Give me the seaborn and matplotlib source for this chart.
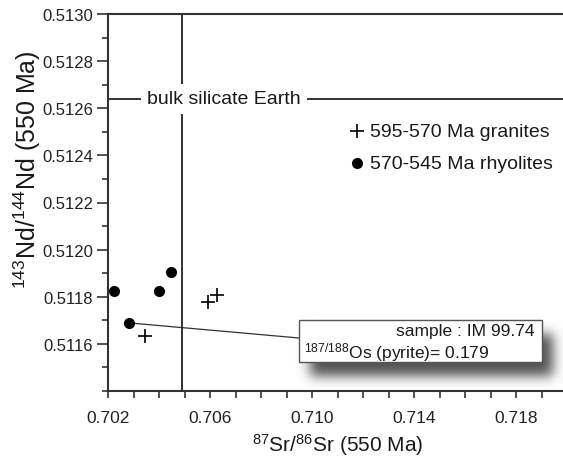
import numpy as np
import pandas as pd
import matplotlib
matplotlib.use("Agg")
import matplotlib.pyplot as plt
import seaborn as sns
from matplotlib.patches import Rectangle, ConnectionPatch
from matplotlib.ticker import FormatStrFormatter, MultipleLocator, FixedLocator

# ---- data ----
granite_sr = [0.70344, 0.70592, 0.70625]
granite_nd = [0.511633, 0.511776, 0.511808]
rhyolite_sr = [0.70224, 0.70282, 0.70398, 0.70445]
rhyolite_nd = [0.511825, 0.511689, 0.511825, 0.511905]
bse_sr = 0.7049
bse_nd = 0.51264
sample_index = 1  # rhyolite sample IM 99.74
granite_label = "595-570 Ma granites"
rhyolite_label = "570-545 Ma rhyolites"
bse_label = "bulk silicate Earth"
note_line1 = "sample : IM 99.74"
note_line2 = r"$^{187/188}$Os (pyrite)= 0.179"
x_label = r"$^{87}$Sr/$^{86}$Sr (550 Ma)"
y_label = r"$^{143}$Nd/$^{144}$Nd (550 Ma)"
x_major = [0.702, 0.706, 0.710, 0.714, 0.718]
y_major = [0.5116, 0.5118, 0.5120, 0.5122, 0.5124, 0.5126, 0.5128, 0.5130]

sns.set_style("ticks")
plt.rcParams["font.family"] = ["Liberation Sans", "DejaVu Sans"]
plt.rcParams["mathtext.fontset"] = "custom"
plt.rcParams["mathtext.rm"] = "Liberation Sans"
plt.rcParams["mathtext.it"] = "Liberation Sans:italic"
plt.rcParams["mathtext.bf"] = "Liberation Sans:bold"

W, H = 563, 460
fig = plt.figure(figsize=(W / 100, H / 100), dpi=100)
ax = fig.add_axes([108.3 / W, (H - 392) / H, (567 - 108.3) / W, 377 / H])

granites = pd.DataFrame({"sr": granite_sr, "nd": granite_nd})
rhyolites = pd.DataFrame({"sr": rhyolite_sr, "nd": rhyolite_nd})

sns.scatterplot(data=granites, x="sr", y="nd", marker="+", s=100, color="black",
                linewidth=1.2, ax=ax, label=granite_label, zorder=5)
sns.scatterplot(data=rhyolites, x="sr", y="nd", marker="o", s=64, color="black",
                edgecolor="black", linewidth=0, ax=ax, label=rhyolite_label, zorder=5)

ax.set_xlim(0.702, 0.720)
ax.set_ylim(0.5114, 0.5130)

# reference lines
ax.axvline(bse_sr, color="#222222", lw=1.3, zorder=2)
ax.axhline(bse_nd, color="#222222", lw=1.3, zorder=2)
ax.text(0.70653, bse_nd, bse_label, ha="center", va="center",
        fontsize=14, color="#1a1a1a", zorder=3,
        bbox=dict(facecolor="white", edgecolor="none", pad=4.5))

# ticks
ax.xaxis.set_major_locator(FixedLocator(x_major))
ax.xaxis.set_minor_locator(MultipleLocator(0.001))
ax.yaxis.set_major_locator(FixedLocator(y_major))
ax.yaxis.set_minor_locator(MultipleLocator(0.0001))
ax.xaxis.set_major_formatter(FormatStrFormatter("%.3f"))
ax.yaxis.set_major_formatter(FormatStrFormatter("%.4f"))
ax.tick_params(axis="x", which="both", direction="out", length=5, width=1.2,
               color="#333333", pad=9, labelsize=12.5, labelcolor="#222222")
ax.tick_params(axis="y", which="major", direction="out", length=8, width=1.2,
               color="#333333", pad=3, labelsize=12, labelcolor="#222222")
ax.tick_params(axis="y", which="minor", direction="out", length=4, width=1.2,
               color="#333333")

for side in ["left", "top", "bottom"]:
    ax.spines[side].set_color("#333333")
    ax.spines[side].set_linewidth(1.5)
ax.spines["right"].set_visible(False)

ax.set_xlabel(x_label, fontsize=15, color="#1a1a1a", labelpad=4)
ax.set_ylabel(y_label, fontsize=18, color="#1a1a1a")
ax.yaxis.set_label_coords(-0.142, 0.59)

# legend
handles, labels = ax.get_legend_handles_labels()
ax.legend(handles, labels, loc="upper left", bbox_to_anchor=(0.529, 0.7127),
          frameon=False, fontsize=14, handlelength=0.65, handletextpad=0.33,
          labelspacing=0.75, borderpad=0, borderaxespad=0, labelcolor="#1a1a1a")

# overlay for the annotation box (pixel coordinates)
ov = fig.add_axes([0, 0, 1, 1], facecolor="none", zorder=10)
ov.axis("off")

bx0, bx1, by0, by1 = 299, 542, 321, 363
# blurred drop shadow
mask = np.zeros((H, W))
dx, dy = 11, 14
mask[by0 + dy:by1 + dy, bx0 + dx:bx1 + dx] = 1.0
sig = 6.0
k = np.arange(-20, 21)
kern = np.exp(-0.5 * (k / sig) ** 2)
kern /= kern.sum()
mask = np.apply_along_axis(lambda r: np.convolve(r, kern, mode="same"), 1, mask)
mask = np.apply_along_axis(lambda c: np.convolve(c, kern, mode="same"), 0, mask)
rgba = np.zeros((H, W, 4))
rgba[..., :3] = 0.28
rgba[..., 3] = np.clip(mask * 0.95, 0, 1)
ov.imshow(rgba, extent=(0, W, H, 0), interpolation="bilinear", zorder=1, aspect="auto")
ov.set_xlim(0, W)
ov.set_ylim(H, 0)

ov.add_patch(Rectangle((bx0, by0), bx1 - bx0, by1 - by0, facecolor="white",
                       edgecolor="#555555", lw=1.0, zorder=2))
ov.text(bx1 - 8, 331.5, note_line1, ha="right", va="center", fontsize=12.5,
        color="#1a1a1a", zorder=3)
ov.text(bx0 + 5, 352.5, note_line2, ha="left", va="center", fontsize=12.5,
        color="#1a1a1a", zorder=3)

# leader line from the sample point to the box
con = ConnectionPatch(xyA=(rhyolite_sr[sample_index], rhyolite_nd[sample_index]),
                      coordsA=ax.transData, xyB=(bx0, 339), coordsB=ov.transData,
                      color="#333333", lw=0.9)
ax.add_artist(con)

fig.savefig("out.png", dpi=100)
